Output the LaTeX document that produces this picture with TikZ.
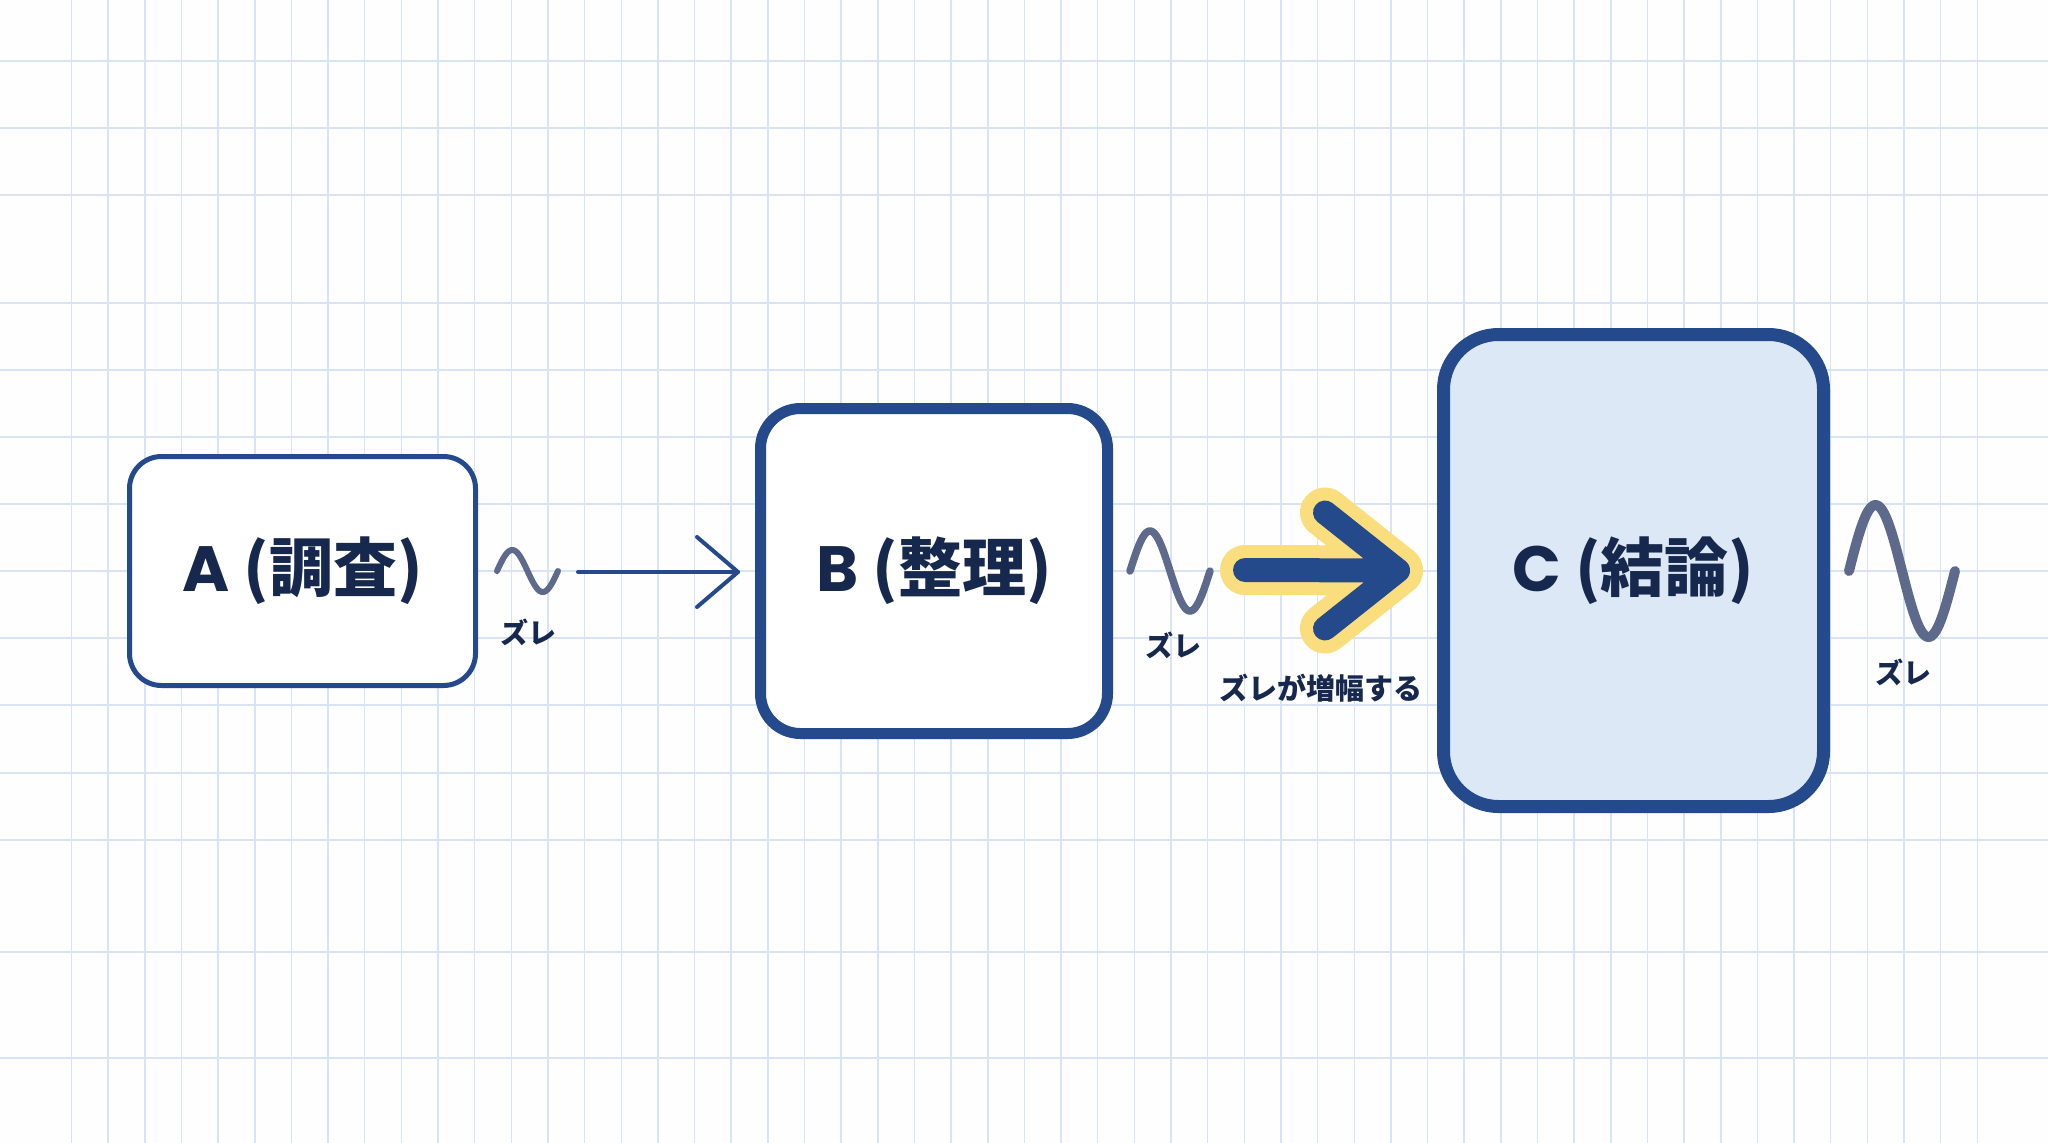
\documentclass[tikz,border=0pt]{standalone}
\usepackage{fontspec}
\newfontfamily\jp{Noto Sans CJK JP}
\newfontfamily\pop{Poppins}
\usetikzlibrary{calc}
\definecolor{navy}{HTML}{244A8C}
\definecolor{ink}{HTML}{16284D}
\definecolor{wavec}{HTML}{5E6A8C}
\definecolor{gold}{HTML}{FADD7C}
\definecolor{cfill}{HTML}{DDE8F6}
\definecolor{gridc}{HTML}{D8E4F4}
\newcommand\biglabel[2]{{\pop\bfseries #1}\hspace{14pt}{\jp\bfseries (#2)}}
\newcommand\drawwave[5]{\draw[wavestyle, line width=#5] plot[domain=0:1, samples=73, smooth] ({#1+#3*\x},{#2-#4*sin(360*\x)});}
\begin{document}
\begin{tikzpicture}[x=1pt,y=-1pt,
  box/.style={draw=navy, fill=white, rounded corners=#1, text=ink, font=\fontsize{64}{70}\selectfont, inner sep=0pt},
  gridline/.style={draw=gridc, line width=1.5pt},
  wavestyle/.style={draw=wavec, line cap=round, line join=round},
  zure/.style={text=ink, font=\jp\bfseries\fontsize{28}{30}\selectfont, inner sep=0pt},
  thinarrow/.style={draw=navy, line width=4pt, line cap=round, line join=round},
  halo/.style={draw=gold, line width=50pt, line cap=round, line join=round},
  fatarrow/.style={draw=navy, line width=24pt, line cap=round, line join=round}]
\useasboundingbox (0,0) rectangle (2048,1143);
\fill[white!99!gray] (0,0) rectangle (2048,1143);
% grid
\foreach \i in {0,...,52} \draw[gridline] ({71.5+36.65*\i},0) -- ({71.5+36.65*\i},1143);
\foreach \y in {61,128,195,303,370,437,504,571,638,705,773,840,952,1058} \draw[gridline] (0,\y) -- (2048,\y);
% boxes
\node[box=32pt, line width=5pt, minimum width=346pt, minimum height=229pt] (A) at (302.5,571) {\biglabel{A}{調査}};
\node[box=40pt, line width=11pt, minimum width=347pt, minimum height=325pt] (B) at (934,571) {\biglabel{B}{整理}};
\node[box=55pt, line width=13pt, fill=cfill, minimum width=380pt, minimum height=472pt] (C) at (1633.5,570.5) {\biglabel{C}{結論}};
% waves
\drawwave{497}{571}{61}{21}{6pt}
\drawwave{1130}{571}{80}{40}{7.5pt}
\drawwave{1849}{571}{106}{66}{10pt}
\node[zure] (zA) at (528,632) {ズレ};
\node[zure] (zB) at (1173,645) {ズレ};
\node[zure] (zC) at (1903,672) {ズレ};
% thin arrow A -> B
\coordinate (a2b) at (578,572);
\coordinate (tipB) at ($(B.west)+(-17,1)$);
\draw[thinarrow] (a2b) -- (tipB);
\draw[thinarrow] ($(tipB)+(-41,-35)$) -- (tipB) -- ($(tipB)+(-41,35)$);
% fat arrow B -> C
\coordinate (b2c) at (1245,570);
\coordinate (tipC) at ($(C.west)+(-39,0)$);
\draw[halo] (b2c) -- (tipC) ($(tipC)+(-73,-58)$) -- (tipC) -- ($(tipC)+(-73,58)$);
\draw[fatarrow] (b2c) -- (tipC) ($(tipC)+(-73,-58)$) -- (tipC) -- ($(tipC)+(-73,58)$);
\node[text=ink, font=\jp\bfseries\fontsize{29}{31}\selectfont, inner sep=0pt] (amp) at (1321,688) {ズレが増幅する};
\end{tikzpicture}
\end{document}
